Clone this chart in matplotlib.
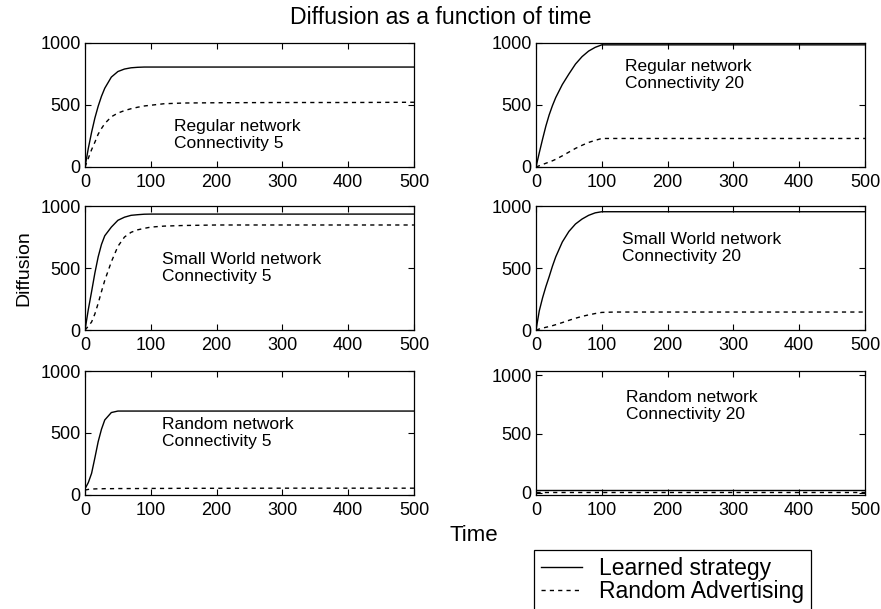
import matplotlib
matplotlib.use("Agg")
import matplotlib.pyplot as plt

plt.rcParams['font.family'] = ['Liberation Sans', 'DejaVu Sans']

# shared time grid the values were read on
t = [0, 5, 10, 15, 20, 25, 30, 40, 50, 60, 70, 80, 90, 100, 120, 150, 200, 300, 400, 500]

# Regular network, connectivity 5
reg5_learned = [0, 150, 280, 395, 490, 570, 635, 725, 770, 790, 800, 804, 806, 806, 806, 806, 806, 806, 806, 806]
reg5_random = [0, 70, 140, 200, 265, 310, 350, 405, 435, 455, 470, 482, 492, 498, 510, 516, 518, 520, 520, 522]

# Regular network, connectivity 20
reg20_learned = [0, 115, 225, 330, 420, 495, 560, 665, 750, 830, 890, 935, 965, 985, 985, 985, 985, 985, 985, 985]
reg20_random = [0, 10, 20, 30, 40, 50, 62, 90, 120, 150, 175, 198, 215, 230, 230, 230, 230, 230, 230, 230]

# Small World network, connectivity 5
sw5_learned = [0, 165, 310, 460, 590, 690, 760, 830, 885, 910, 925, 930, 934, 935, 935, 935, 935, 935, 935, 935]
sw5_random = [0, 30, 65, 130, 215, 310, 400, 550, 675, 750, 788, 808, 820, 830, 838, 843, 847, 847, 847, 847]

# Small World network, connectivity 20
sw20_learned = [0, 155, 260, 350, 430, 515, 590, 710, 795, 855, 895, 925, 945, 954, 954, 954, 954, 954, 954, 954]
sw20_random = [0, 8, 15, 22, 28, 35, 43, 60, 78, 95, 110, 122, 133, 142, 145, 145, 145, 145, 145, 145]

# Random network, connectivity 5
rnd5_learned = [50, 100, 175, 300, 430, 530, 605, 665, 677, 677, 677, 677, 677, 677, 677, 677, 677, 677, 677, 677]
rnd5_random = [40, 45, 48, 49, 50, 50, 51, 51, 52, 52, 52, 52, 53, 53, 53, 54, 54, 55, 55, 55]

# Random network, connectivity 20
rnd20_learned = [20] * len(t)
rnd20_random = [5] * len(t)

paneles = [
    (reg5_learned, reg5_random, "Regular network\nConnectivity 5", (135, 258)),
    (reg20_learned, reg20_random, "Regular network\nConnectivity 20", (135, 742)),
    (sw5_learned, sw5_random, "Small World network\nConnectivity 5", (117, 500)),
    (sw20_learned, sw20_random, "Small World network\nConnectivity 20", (131, 661)),
    (rnd5_learned, rnd5_random, "Random network\nConnectivity 5", (117, 500)),
    (rnd20_learned, rnd20_random, "Random network\nConnectivity 20", (137, 737)),
]

fig = plt.figure(figsize=(8.81, 6.09), dpi=100)

lefts = [0.0965, 0.6084]
bottoms = [0.7258, 0.4581, 0.1872]
ancho, alto = 0.3734, 0.2036

for i, (learned, rand, texto, pos) in enumerate(paneles):
    fila, col = divmod(i, 2)
    ax = fig.add_axes([lefts[col], bottoms[fila], ancho, alto])
    l1, = ax.plot(t, learned, color='black', lw=1.0, label='Learned strategy')
    l2, = ax.plot(t, rand, color='black', lw=1.0, linestyle=(0, (3, 3)), label='Random Advertising')
    ax.set_xlim(0, 500)
    if i == 5:
        ax.set_ylim(-20, 1035)
    else:
        ax.set_ylim(0, 1000)
    ax.set_xticks([0, 100, 200, 300, 400, 500])
    ax.set_yticks([0, 500, 1000])
    ax.tick_params(direction='in', top=True, right=True, length=4, labelsize=13)
    ax.tick_params(axis='x', pad=5)
    ax.tick_params(axis='y', pad=3)
    for s in ax.spines.values():
        s.set_linewidth(0.9)
    ax.text(pos[0], pos[1], texto, fontsize=12.5, ha='left', va='center', linespacing=1.15)

fig.text(0.5, 0.972, "Diffusion as a function of time", ha='center', va='center', fontsize=16.6)
fig.text(0.027, 0.56, "Diffusion", rotation=90, ha='center', va='center', fontsize=14)
fig.text(0.538, 0.121, "Time", ha='center', va='center', fontsize=16)

leg = fig.legend([l1, l2], ['Learned strategy', 'Random Advertising'],
                 loc='upper left', bbox_to_anchor=(0.606, 0.097),
                 bbox_transform=fig.transFigure, fontsize=16.5,
                 fancybox=False, edgecolor='black', framealpha=1,
                 handlelength=1.8, handletextpad=0.75, borderpad=0.3,
                 borderaxespad=0, labelspacing=0.02)
leg.get_frame().set_linewidth(0.9)

fig.savefig("out.png", dpi=100)
